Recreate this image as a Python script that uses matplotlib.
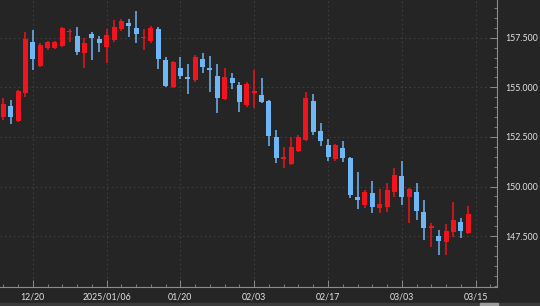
import matplotlib
matplotlib.use("Agg")
import matplotlib.pyplot as plt
from matplotlib.patches import Rectangle
from matplotlib.ticker import MultipleLocator, FixedLocator, FixedFormatter, FormatStrFormatter

# daily OHLC, one candle per trading day (12/16 .. 03/14)
opens = [153.51, 154.06, 153.30, 154.71, 157.28, 156.07, 156.98, 156.98, 157.08, 157.79,
         157.59, 156.73, 157.69, 157.44, 157.03, 157.38, 157.94, 158.24, 157.99, 157.49,
         157.33, 157.94, 156.38, 155.02, 155.97, 155.52, 155.37, 156.43, 155.97, 155.57,
         154.41, 155.47, 155.12, 154.11, 154.71, 154.61, 154.31, 152.50, 151.39, 151.14,
         151.79, 152.35, 154.31, 152.80, 152.09, 151.39, 151.94, 151.44, 149.47, 149.07,
         149.68, 148.92, 148.97, 149.73, 150.53, 149.47, 149.73, 148.72, 147.91, 147.51,
         147.21, 147.71, 148.22, 147.66]
highs = [154.46, 154.36, 154.87, 157.79, 157.89, 157.23, 157.33, 157.33, 158.04, 157.94,
         158.04, 157.49, 157.79, 157.59, 157.94, 158.39, 158.44, 158.44, 158.85, 157.94,
         158.09, 158.04, 156.53, 156.33, 156.53, 156.18, 156.63, 156.73, 156.58, 156.18,
         155.97, 155.72, 155.27, 155.27, 155.87, 155.47, 154.36, 152.85, 151.99, 152.50,
         152.60, 154.76, 154.66, 153.20, 152.40, 152.15, 152.30, 151.49, 150.73, 149.83,
         150.28, 149.88, 150.18, 150.94, 151.29, 149.93, 150.18, 149.32, 148.17, 147.81,
         148.12, 149.22, 148.42, 149.02]
lows = [153.35, 153.15, 153.25, 154.51, 155.87, 156.02, 156.88, 156.93, 157.03, 157.28,
        156.63, 155.97, 156.38, 156.78, 156.23, 157.28, 157.84, 157.54, 157.23, 156.88,
        157.23, 155.92, 155.02, 154.97, 155.42, 154.66, 155.27, 155.72, 154.76, 153.71,
        154.36, 154.92, 153.76, 154.01, 153.96, 154.21, 152.04, 151.19, 150.94, 151.09,
        151.74, 152.30, 152.60, 152.04, 151.29, 151.29, 151.24, 149.42, 148.87, 148.92,
        148.67, 148.67, 148.72, 149.47, 149.07, 148.17, 148.32, 147.31, 146.96, 146.55,
        146.55, 147.46, 147.41, 147.61]
closes = [154.16, 153.51, 154.82, 157.44, 156.43, 157.13, 157.28, 157.28, 157.99, 157.84,
          156.78, 157.23, 157.49, 157.23, 157.64, 158.04, 158.34, 158.09, 157.69, 157.54,
          157.99, 156.43, 155.07, 156.28, 155.57, 155.42, 156.53, 156.02, 155.87, 154.46,
          155.52, 155.22, 154.26, 155.17, 154.82, 154.26, 152.55, 151.44, 151.49, 151.99,
          152.50, 154.46, 152.75, 152.30, 151.49, 152.09, 151.44, 149.58, 149.32, 149.73,
          148.97, 149.12, 149.83, 150.58, 149.47, 149.88, 148.77, 147.91, 148.01, 147.26,
          147.76, 148.32, 147.76, 148.62]

tick_labels = ["12/20", "2025/01/06", "01/20", "02/03", "02/17", "03/03", "03/15"]
first_tick = 4
tick_step = 10
price_ticks = [147.5, 150.0, 152.5, 155.0, 157.5]

BG = "#252525"
UP = "#f0141e"
DOWN = "#6fb6f6"
AXIS = "#8c8c8c"
TEXT = "#e4e4e4"

plt.rcParams["font.family"] = ["Lato", "DejaVu Sans"]

fig = plt.figure(figsize=(5.4, 3.06), dpi=100, facecolor=BG)
ax = fig.add_axes([0.0, 19 / 306, 497 / 540, 287 / 306], facecolor=BG)

idx = list(range(len(opens)))
colors = [UP if c >= o else DOWN for o, c in zip(opens, closes)]
ax.vlines(idx, lows, highs, colors=colors, linewidth=1.1, zorder=2)
bottoms = [min(o, c) for o, c in zip(opens, closes)]
heights = [max(abs(c - o), 0.07) for o, c in zip(opens, closes)]
ax.bar(idx, heights, bottom=bottoms, width=0.68, color=colors, linewidth=0, zorder=3)

ax.set_xlim(-0.45, 66.9)
ax.set_ylim(144.94, 159.40)

ticks = [first_tick + tick_step * k for k in range(len(tick_labels))]
ax.xaxis.set_major_locator(FixedLocator(ticks))
ax.xaxis.set_major_formatter(FixedFormatter(tick_labels))
ax.xaxis.set_minor_locator(MultipleLocator(2))
ax.yaxis.tick_right()
ax.yaxis.set_major_locator(FixedLocator(price_ticks))
ax.yaxis.set_minor_locator(MultipleLocator(0.5))
ax.yaxis.set_major_formatter(FormatStrFormatter("%.3f"))

ax.grid(True, which="major", color="#3e3e3e", linestyle=(0, (1.5, 2.5)), linewidth=0.8, zorder=0)
for side in ("left", "top"):
    ax.spines[side].set_visible(False)
for side in ("right", "bottom"):
    ax.spines[side].set_color(AXIS)
    ax.spines[side].set_linewidth(0.8)

ax.tick_params(which="both", direction="in", colors=AXIS, labelcolor=TEXT, labelsize=6.3)
ax.tick_params(which="major", length=5, width=0.7)
ax.tick_params(which="minor", length=2.5, width=0.6)
ax.tick_params(axis="y", pad=6)
ax.tick_params(axis="x", pad=4)

# scrollbar strip at the bottom edge
fig.patches.append(Rectangle((0, 0), 1, 3 / 306, transform=fig.transFigure, color="#3a3a3a", zorder=0))
fig.patches.append(Rectangle((480 / 540, 0), 18 / 540, 3 / 306, transform=fig.transFigure, color="#9a9a9a", zorder=1))

fig.savefig("out.png", dpi=100, facecolor=BG)
